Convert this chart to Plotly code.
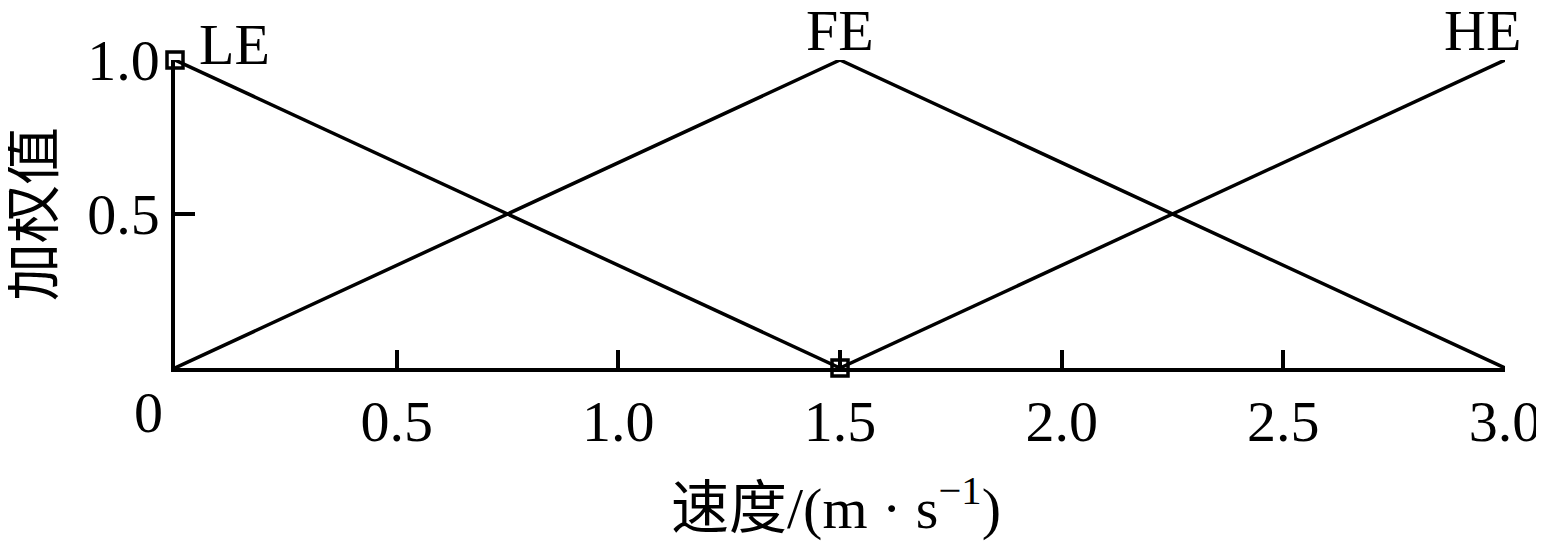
import plotly.graph_objects as go

speed_le = [0, 1.5]
weight_le = [1, 0]
speed_fe = [0, 1.5, 3.0]
weight_fe = [0, 1, 0]
speed_he = [1.5, 3.0]
weight_he = [0, 1]
marker_x = [0, 1.5]
marker_y = [1, 0]
labels = ["LE", "FE", "HE"]
label_x = [0.05, 1.5, 2.95]
label_y = [1.0, 1.0, 1.0]
xtick_vals = [0.5, 1.0, 1.5, 2.0, 2.5, 3.0]
xtick_text = ["0.5", "1.0", "1.5", "2.0", "2.5", "3.0"]
ytick_vals = [0.5, 1.0]
ytick_text = ["0.5", "1.0"]

FONT = "Liberation Serif, Times New Roman, Noto Sans CJK SC"
FS = 58
LW = 3.5

fig = go.Figure()
for xs, ys in [(speed_le, weight_le), (speed_fe, weight_fe), (speed_he, weight_he)]:
    fig.add_trace(go.Scatter(x=xs, y=ys, mode="lines", line=dict(color="black", width=LW),
                             showlegend=False, cliponaxis=False))
fig.add_trace(go.Scatter(x=marker_x, y=marker_y, mode="markers",
                         marker=dict(symbol="square-open", size=16, color="black", line=dict(width=3.5)),
                         showlegend=False, cliponaxis=False))

# curve labels
fig.add_annotation(x=label_x[0], y=label_y[0], text=labels[0], showarrow=False, xanchor="left",
                   yanchor="middle", yshift=16, xshift=0, font=dict(size=FS, family=FONT, color="black"))
fig.add_annotation(x=label_x[1], y=label_y[1], text=labels[1], showarrow=False, xanchor="center",
                   yanchor="bottom", yshift=-4, borderpad=0, font=dict(size=FS, family=FONT, color="black"))
fig.add_annotation(x=label_x[2], y=label_y[2], text=labels[2], showarrow=False, xanchor="center",
                   yanchor="bottom", yshift=-4, borderpad=0, font=dict(size=FS, family=FONT, color="black"))

# origin label
fig.add_annotation(x=0, y=0, xref="x", yref="y", text="0", showarrow=False, xanchor="center",
                   yanchor="top", xshift=-27, yshift=-10, font=dict(size=FS, family=FONT, color="black"))

# axis titles
fig.add_annotation(x=0.5, y=0, xref="paper", yref="paper", text="速度/(m · s<sup>−1</sup>)",
                   showarrow=False, xanchor="center", yanchor="top", yshift=-98, xshift=-4,
                   font=dict(size=FS, family=FONT, color="black"))
fig.add_annotation(x=0, y=0.5, xref="paper", yref="paper", text="加权值", textangle=-90,
                   showarrow=False, xanchor="center", yanchor="middle", xshift=-142, yshift=0,
                   borderpad=0, font=dict(size=FS, family=FONT, color="black"))

fig.update_xaxes(range=[0, 3.0], tickvals=xtick_vals, ticktext=xtick_text, ticks="inside",
                 ticklen=18, tickwidth=LW, tickcolor="black", showline=True, linecolor="black",
                 linewidth=LW, showgrid=False, zeroline=False, automargin=False,
                 tickfont=dict(size=FS, family=FONT, color="black"))
fig.update_yaxes(range=[0, 1.0], tickvals=ytick_vals, ticktext=ytick_text, ticks="inside",
                 ticklen=20, tickwidth=LW, tickcolor="black", showline=True, linecolor="black",
                 linewidth=LW, showgrid=False, zeroline=False, automargin=False,
                 tickfont=dict(size=FS, family=FONT, color="black"))

# page body has an 8px default margin, so the figure is drawn 8px smaller
fig.update_layout(width=1536, height=534, plot_bgcolor="white", paper_bgcolor="white",
                  margin=dict(l=167, r=39, t=52, b=174))

fig.write_html("out.html")
